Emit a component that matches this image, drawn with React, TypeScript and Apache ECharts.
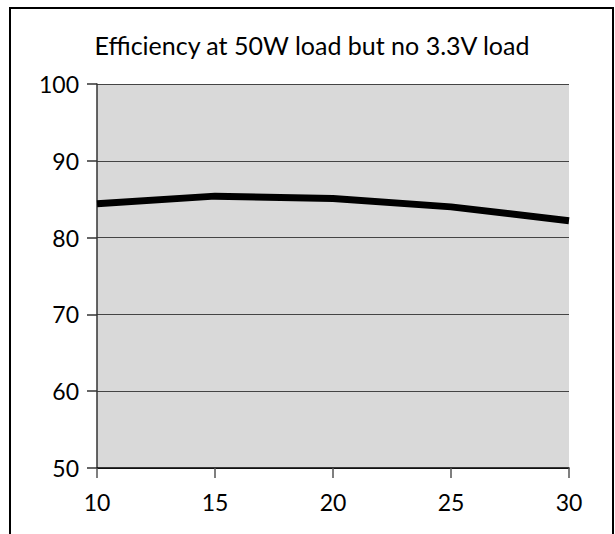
import React, { useEffect, useRef } from "react";
import * as echarts from "echarts";

const titleText = "Efficiency at 50W load but no 3.3V load";
const xValues = [10, 15, 20, 25, 30];
const efficiency = [84.4, 85.4, 85.1, 84.0, 82.2];

export default function App() {
  const ref = useRef<HTMLDivElement>(null);
  useEffect(() => {
    if (!ref.current) return;
    const chart = echarts.init(ref.current, null, { renderer: "svg" });
    const font = "Lato, 'Open Sans', sans-serif";
    chart.setOption({
      animation: false,
      backgroundColor: "#ffffff",
      title: {
        text: titleText,
        left: 307,
        textAlign: "center",
        top: 27,
        textStyle: { fontFamily: font, fontSize: 25, fontWeight: "normal", color: "#000" },
      },
      graphic: [
        {
          type: "rect",
          shape: { x: 10, y: 8, width: 603, height: 600 },
          style: { fill: "none", stroke: "#000", lineWidth: 2 },
          silent: true,
        },
      ],
      grid: {
        left: 97,
        right: 46,
        top: 84,
        bottom: 66,
        show: true,
        backgroundColor: "#d9d9d9",
        borderWidth: 0,
      },
      xAxis: {
        type: "value",
        min: 10,
        max: 30,
        interval: 5,
        axisLine: { show: true, onZero: false, lineStyle: { color: "#000", width: 1.5 } },
        axisTick: { show: true, length: 10, lineStyle: { color: "#555", width: 1.5 } },
        axisLabel: { fontFamily: font, fontSize: 23, color: "#000", margin: 22 },
        splitLine: { show: false },
      },
      yAxis: {
        type: "value",
        min: 50,
        max: 100,
        interval: 10,
        axisLine: { show: true, lineStyle: { color: "#333", width: 1.5 } },
        axisTick: { show: true, length: 10, lineStyle: { color: "#333", width: 1.5 } },
        axisLabel: { fontFamily: font, fontSize: 23, color: "#000", margin: 18 },
        splitLine: { show: true, lineStyle: { color: "#444", width: 1.2 } },
      },
      series: [
        {
          type: "line",
          data: xValues.map((x, i) => [x, efficiency[i]]),
          symbol: "none",
          lineStyle: { color: "#000", width: 7 },
        },
      ],
    });
    return () => chart.dispose();
  }, []);
  return (
    <div
      ref={ref}
      style={{ position: "absolute", left: 0, top: 0, width: 615, height: 534 }}
    />
  );
}
